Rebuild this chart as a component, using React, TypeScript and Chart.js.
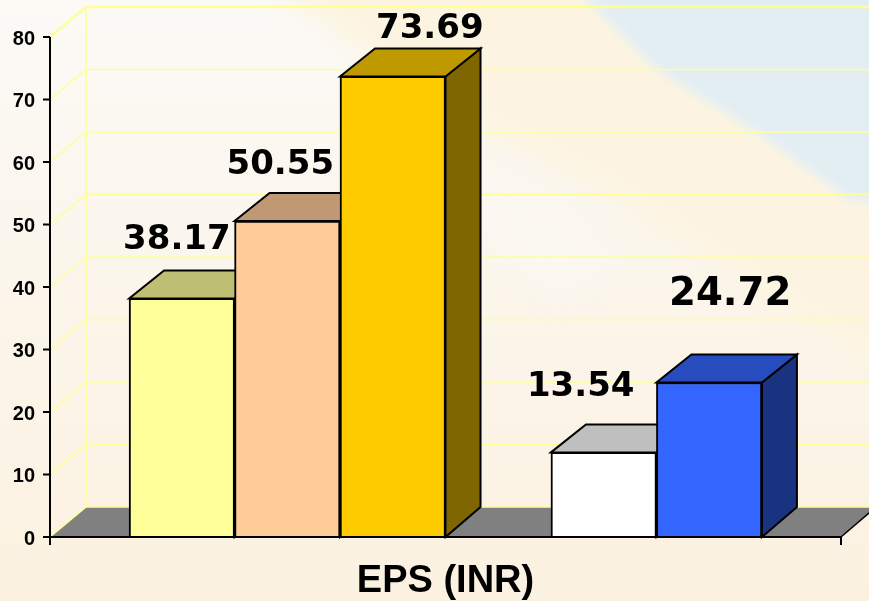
import React, { useEffect, useRef } from "react";
import { Chart, registerables } from "chart.js";

Chart.register(...registerables);

const seriesNames = ["A", "B", "C", "D", "E"];
const slotPositions = [1.25, 2.25, 3.25, 5.25, 6.25];
const values = [38.17, 50.55, 73.69, 13.54, 24.72];
const frontColors = ["#FFFF99", "#FFCC99", "#FFCC00", "#FFFFFF", "#3366FF"];
const topColors = ["#BFBF73", "#BF9973", "#BF9900", "#BFBFBF", "#264CBF"];
const sideColors = ["#808040", "#806640", "#806600", "#808080", "#1A3380"];
const labelSizes = [34, 34, 34, 34, 38.7];
const labelShifts = [[-5, -49], [-7, -47], [37, -38], [-23, -56], [21, -78]];
const depthX = 35;
const depthY = 30;

function poly(ctx: CanvasRenderingContext2D, pts: number[][], fill?: string, stroke?: string, lw = 2) {
  ctx.beginPath();
  pts.forEach((p, i) => (i ? ctx.lineTo(p[0], p[1]) : ctx.moveTo(p[0], p[1])));
  ctx.closePath();
  if (fill) { ctx.fillStyle = fill; ctx.fill(); }
  if (stroke) { ctx.strokeStyle = stroke; ctx.lineWidth = lw; ctx.stroke(); }
}

const backdrop = {
  id: "backdrop",
  beforeDraw(chart: any) {
    const { ctx, width: w, height: h } = chart;
    ctx.save();
    const base = ctx.createLinearGradient(0, 0, 0, h);
    base.addColorStop(0, "#FBFAF6");
    base.addColorStop(0.45, "#FBF6EC");
    base.addColorStop(1, "#FBF1E0");
    ctx.fillStyle = base;
    ctx.fillRect(0, 0, w, h);
    ctx.filter = "blur(12px)";
    poly(ctx, [[240, -40], [580, -40], [700, 80], [930, 230], [930, 400], [800, 320], [600, 190], [440, 110]], "#FCF4E0");
    ctx.filter = "blur(5px)";
    poly(ctx, [[566, -20], [930, -20], [930, 205], [850, 200], [760, 135], [660, 72]], "#E3EEF3");
    ctx.filter = "blur(16px)";
    poly(ctx, [[470, 170], [560, 200], [620, 270], [560, 300], [480, 240]], "#FBF7F1");
    ctx.restore();
  },
};

const frame3d = {
  id: "frame3d",
  beforeDatasetsDraw(chart: any) {
    const { ctx, scales } = chart;
    const x = scales.x, y = scales.y;
    const l = x.left, r = x.right, b = y.getPixelForValue(0), t = y.getPixelForValue(80);
    ctx.save();
    poly(ctx, [[l, b], [r, b], [r + depthX, b - depthY], [l + depthX + 1, b - depthY]], "#808080");
    ctx.strokeStyle = "#FFFF99";
    [0, 10, 20, 30, 40, 50, 60, 70, 80].forEach((v) => {
      const py = y.getPixelForValue(v);
      ctx.lineWidth = v === 80 ? 2.5 : 1.6;
      ctx.beginPath();
      ctx.moveTo(l, py);
      ctx.lineTo(l + depthX + 1, py - depthY);
      ctx.lineTo(chart.width, py - depthY);
      ctx.stroke();
    });
    ctx.lineWidth = 1.6;
    ctx.beginPath();
    ctx.moveTo(l + depthX + 1, t - depthY);
    ctx.lineTo(l + depthX + 1, b - depthY);
    ctx.stroke();
    ctx.strokeStyle = "#000";
    ctx.lineWidth = 1.5;
    ctx.beginPath();
    ctx.moveTo(r, b);
    ctx.lineTo(r + depthX, b - depthY);
    ctx.stroke();
    const els = chart.getDatasetMeta(0).data;
    els.forEach((el: any, i: number) => {
      const half = el.width / 2;
      const a = el.x - half, c = el.x + half, top = el.y;
      poly(ctx, [[c, top], [c + depthX, top - 28], [c + depthX, b - depthY], [c, b]], sideColors[i], "#000");
      poly(ctx, [[a, top], [a + depthX, top - 28], [c + depthX, top - 28], [c, top]], topColors[i], "#000");
    });
    ctx.restore();
  },
  afterDraw(chart: any) {
    const { ctx, scales } = chart;
    const x = scales.x, y = scales.y;
    const l = x.left, r = x.right, b = y.getPixelForValue(0), t = y.getPixelForValue(80);
    ctx.save();
    ctx.strokeStyle = "#000";
    ctx.lineWidth = 2;
    ctx.beginPath();
    ctx.moveTo(l, b);
    ctx.lineTo(r, b);
    ctx.moveTo(l, t);
    ctx.lineTo(l, b + 8);
    ctx.moveTo(r, b);
    ctx.lineTo(r, b + 8);
    y.ticks.forEach((tk: any) => {
      const py = y.getPixelForValue(tk.value);
      ctx.moveTo(l - 7, py);
      ctx.lineTo(l, py);
    });
    ctx.stroke();
    ctx.fillStyle = "#000";
    ctx.textAlign = "center";
    ctx.textBaseline = "alphabetic";
    chart.getDatasetMeta(0).data.forEach((el: any, i: number) => {
      ctx.font = `bold ${labelSizes[i]}px "DejaVu Sans"`;
      ctx.fillText(values[i].toFixed(2), el.x + labelShifts[i][0], el.y + labelShifts[i][1]);
    });
    ctx.restore();
  },
};

export default function App() {
  const ref = useRef<HTMLCanvasElement>(null);
  useEffect(() => {
    document.body.style.margin = "0";
    const chart = new Chart(ref.current!, {
      type: "bar",
      data: {
        labels: seriesNames,
        datasets: [{
          data: slotPositions.map((p, i) => ({ x: p, y: values[i] })),
          backgroundColor: frontColors,
          borderColor: "#000",
          borderWidth: 2,
          barThickness: 105.5,
        }],
      },
      options: {
        responsive: false,
        animation: false,
        layout: { padding: { top: 37, right: 28, left: 0, bottom: 0 } },
        plugins: { legend: { display: false }, tooltip: { enabled: false } },
        scales: {
          x: {
            type: "linear",
            min: 0,
            max: 7.5,
            offset: false,
            grid: { display: false, drawTicks: false },
            border: { display: false },
            ticks: { display: false },
            title: {
              display: true,
              text: "EPS (INR)",
              color: "#000",
              font: { family: '"Liberation Sans"', size: 38, weight: "bold" },
              padding: { top: 22, bottom: -3 },
            },
            afterFit(s: any) { s.height = 64; },
          },
          y: {
            min: 0,
            max: 80,
            grid: { display: false, drawTicks: false },
            border: { display: false },
            ticks: {
              stepSize: 10,
              color: "#000",
              padding: 15,
              labelOffset: 2,
              font: { family: '"Liberation Sans"', size: 20, weight: "bold" },
            },
            afterFit(s: any) { s.width = 50; },
          },
        },
      },
      plugins: [backdrop, frame3d],
    } as any);
    return () => chart.destroy();
  }, []);
  return <canvas ref={ref} width={869} height={601} style={{ display: "block" }} />;
}
